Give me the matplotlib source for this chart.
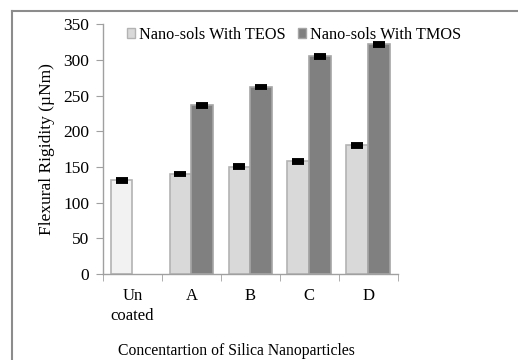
import matplotlib.pyplot as plt
from matplotlib.patches import Patch
from matplotlib.lines import Line2D
import numpy as np

# data
categories = ["Un\ncoated", "A", "B", "C", "D"]
teos = [131, 140, 150, 158, 180]
tmos = [np.nan, 236, 262, 305, 322]
teos_err = [2, 2, 2, 2, 2]
tmos_err = [0, 2, 2, 2, 2]

plt.rcParams['font.family'] = ['Liberation Serif', 'DejaVu Serif']

fig = plt.figure(figsize=(5.18, 3.6), dpi=100)
ax = fig.add_axes([0.1988, 0.239, 0.569, 0.694])

x = np.arange(len(categories))
w = 0.37
teos_colors = ["#f2f2f2"] + ["#d9d9d9"] * (len(categories) - 1)
ax.bar(x - w / 2, teos, w, color=teos_colors, edgecolor="#b3b3b3", linewidth=1.2, zorder=2)
ax.bar(x + w / 2, tmos, w, color="#808080", edgecolor="#a6a6a6", linewidth=1.2, zorder=2)

# error caps (tiny error, drawn as thick black caps)
ax.errorbar(x - w / 2, teos, yerr=teos_err, fmt="none", ecolor="black",
            elinewidth=1.0, capsize=4, capthick=2.8, zorder=3)
ax.errorbar(x[1:] + w / 2, tmos[1:], yerr=tmos_err[1:], fmt="none", ecolor="black",
            elinewidth=1.0, capsize=4, capthick=2.8, zorder=3)

ax.set_xlim(-0.5, len(categories) - 0.5)
ax.set_ylim(0, 350)
ax.set_yticks(np.arange(0, 351, 50))
ax.set_xticks(x)
ax.set_xticklabels(categories, fontsize=12, linespacing=1.35)
ax.set_xticks(np.arange(-0.5, len(categories), 1), minor=True)
ax.tick_params(axis="x", which="major", length=0, pad=10)
ax.tick_params(axis="x", which="minor", length=5, color="#a0a0a0", direction="out")
ax.tick_params(axis="y", length=5, color="#a0a0a0", labelsize=12.5, pad=5)

for s in ["top", "right"]:
    ax.spines[s].set_visible(False)
for s in ["left", "bottom"]:
    ax.spines[s].set_color("#a0a0a0")
    ax.spines[s].set_linewidth(1.0)

ax.set_ylabel("Flexural Rigidity (\u00b5Nm)", fontsize=12.5, labelpad=6)
fig.text(0.456, 0.004, "Concentartion of Silica Nanoparticles", fontsize=11.3,
         ha="center", va="bottom")

handles = [Patch(facecolor="#d9d9d9", edgecolor="#b3b3b3"),
           Patch(facecolor="#808080", edgecolor="#a6a6a6")]
ax.legend(handles, ["Nano-sols With TEOS", "Nano-sols With TMOS"], ncol=2,
          loc="upper left", bbox_to_anchor=(0.06, 1.015), frameon=False,
          fontsize=11.7, handlelength=0.5, handleheight=0.5,
          handletextpad=0.2, columnspacing=0.8, borderaxespad=0)

# gray frame on top and left edges of the figure
fig.add_artist(Line2D([0.023, 1.0], [0.969, 0.969], transform=fig.transFigure,
                      color="#8c8c8c", linewidth=1.5))
fig.add_artist(Line2D([0.023, 0.023], [0.0, 0.969], transform=fig.transFigure,
                      color="#8c8c8c", linewidth=1.5))

fig.savefig("out.png", dpi=100)
